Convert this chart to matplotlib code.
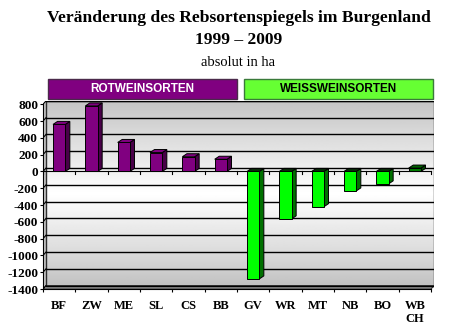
import numpy as np
import matplotlib
matplotlib.use("Agg")
import matplotlib.pyplot as plt
from matplotlib.patches import Polygon, Rectangle

# Veränderung der Rebfläche je Sorte 1999-2009 (ha)
sorten = ["BF", "ZW", "ME", "SL", "CS", "BB", "GV", "WR", "MT", "NB", "BO", "WB\nCH"]
aenderung = [560, 780, 345, 225, 175, 145, -1280, -565, -420, -232, -148, 40]
rot_anzahl = 6  # die ersten 6 sind Rotweinsorten

yticks = list(range(-1400, 801, 200))

W, H = 477, 329
fig = plt.figure(figsize=(W / 100, H / 100), dpi=100)
serif = "Liberation Serif"

# Wand-Versatz fuer den 3D-Effekt (in Datenkoordinaten)
wdx, wdy = 0.093, 40
# Tiefe der Saeulen
bdx, bdy = 0.14, 36
bw = 0.38

ax = fig.add_axes([43 / W, (H - 289) / H, (434 - 43) / W, (289 - 100.9) / H])
ax.set_xlim(0, 12 + wdx)
ax.set_ylim(-1400, 800 + wdy)

# Rueckwand mit Verlauf
ys = np.linspace(-1400, 800, 200)
grau = np.interp(ys, [-1400, -1000, -300, 0, 800], [0.76, 0.86, 1.0, 0.94, 0.77])
ax.imshow(grau[::-1, None], cmap="gray", vmin=0, vmax=1, aspect="auto",
          extent=[wdx, 12 + wdx, -1400 + wdy, 800 + wdy], zorder=0)
ax.add_patch(Rectangle((wdx, -1400 + wdy), 12, 2200, fill=False,
                       edgecolor="#303030", lw=1, zorder=1))
# Seitenwand und Boden
ax.add_patch(Polygon([(0, -1400), (wdx, -1400 + wdy), (wdx, 800 + wdy), (0, 800)],
                     facecolor="#c4c4c4", edgecolor="none", zorder=0.5))
ax.add_patch(Polygon([(0, -1400), (12, -1400), (12 + wdx, -1400 + wdy), (wdx, -1400 + wdy)],
                     facecolor="#b0b0b0", edgecolor="#303030", lw=0.8, zorder=0.5))

for v in yticks:
    ax.plot([wdx, 12 + wdx], [v + wdy, v + wdy], color="black", lw=1, zorder=1)
    ax.plot([0, wdx], [v, v + wdy], color="black", lw=0.8, zorder=1)

# Nulllinie vorne mit Teilstrichen
ax.plot([0, 12], [0, 0], color="black", lw=0.8, zorder=1.5)
for i in range(13):
    ax.plot([i, i], [0, -25], color="black", lw=0.8, zorder=1.5)

for i, v in enumerate(aenderung):
    if i < rot_anzahl:
        front, seite, oben = "#800080", "#480048", "#800080"
    elif v > 0:
        front, seite, oben = "#007a00", "#005000", "#006400"
    else:
        front, seite, oben = "#00ff00", "#007000", "#0a2a0a"
    x0 = i + 0.5 - bw / 2
    x1 = i + 0.5 + bw / 2
    lo, hi = min(v, 0), max(v, 0)
    ax.add_patch(Polygon([(x1, lo), (x1 + bdx, lo + bdy), (x1 + bdx, hi + bdy), (x1, hi)],
                         facecolor=seite, edgecolor="black", lw=0.7, zorder=3))
    ax.add_patch(Polygon([(x0, hi), (x0 + bdx, hi + bdy), (x1 + bdx, hi + bdy), (x1, hi)],
                         facecolor=oben, edgecolor="black", lw=0.7, zorder=3))
    ax.add_patch(Rectangle((x0, lo), bw, hi - lo, facecolor=front,
                           edgecolor="black", lw=0.7, zorder=4))

# Achsen
for s in ["top", "right"]:
    ax.spines[s].set_visible(False)
ax.spines["left"].set_bounds(-1400, 800)
ax.spines["bottom"].set_bounds(0, 12)
ax.spines["left"].set_zorder(5)
ax.spines["bottom"].set_zorder(5)
ax.set_yticks(yticks)
ax.set_yticklabels([str(t) for t in yticks], fontfamily=serif,
                   fontweight="bold", fontsize=9.5)
ax.set_xticks(range(13))
ax.set_xticklabels([])
ax.set_xticks(np.arange(12) + 0.5, minor=True)
ax.set_xticklabels(sorten, minor=True, fontfamily=serif, fontweight="bold",
                   fontsize=9, linespacing=1.1, va="top")
ax.tick_params(axis="both", which="major", direction="out", length=2.5, width=0.8, pad=1)
ax.tick_params(axis="x", which="minor", length=0, pad=8)

# Titel
fig.text(0.5, 1 - 18 / H, "Veränderung des Rebsortenspiegels im Burgenland",
         ha="center", va="center", fontfamily=serif, fontweight="bold", fontsize=12.6)
fig.text(0.5, 1 - 40 / H, "1999 – 2009", ha="center", va="center",
         fontfamily=serif, fontweight="bold", fontsize=12.6)
fig.text(0.5, 1 - 62 / H, "absolut in ha", ha="center", va="center",
         fontfamily=serif, fontsize=10.5)

# Kopfzeilen fuer die Sortengruppen
for x0, x1, fc, ec, tc, label in [(48, 237, "#800080", "#4a2a4a", "white", "ROTWEINSORTEN"),
                                  (244, 433, "#66ff33", "#3a7a3a", "black", "WEISSWEINSORTEN")]:
    fig.patches.append(Rectangle((x0 / W, (H - 99) / H), (x1 - x0) / W, 20 / H,
                                 transform=fig.transFigure, facecolor=fc,
                                 edgecolor=ec, lw=1))
    fig.text((x0 + x1) / 2 / W, (H - 89) / H, label, ha="center", va="center",
             color=tc, fontfamily="Liberation Sans", fontweight="bold", fontsize=8.5)

fig.savefig("out.png", dpi=100)
